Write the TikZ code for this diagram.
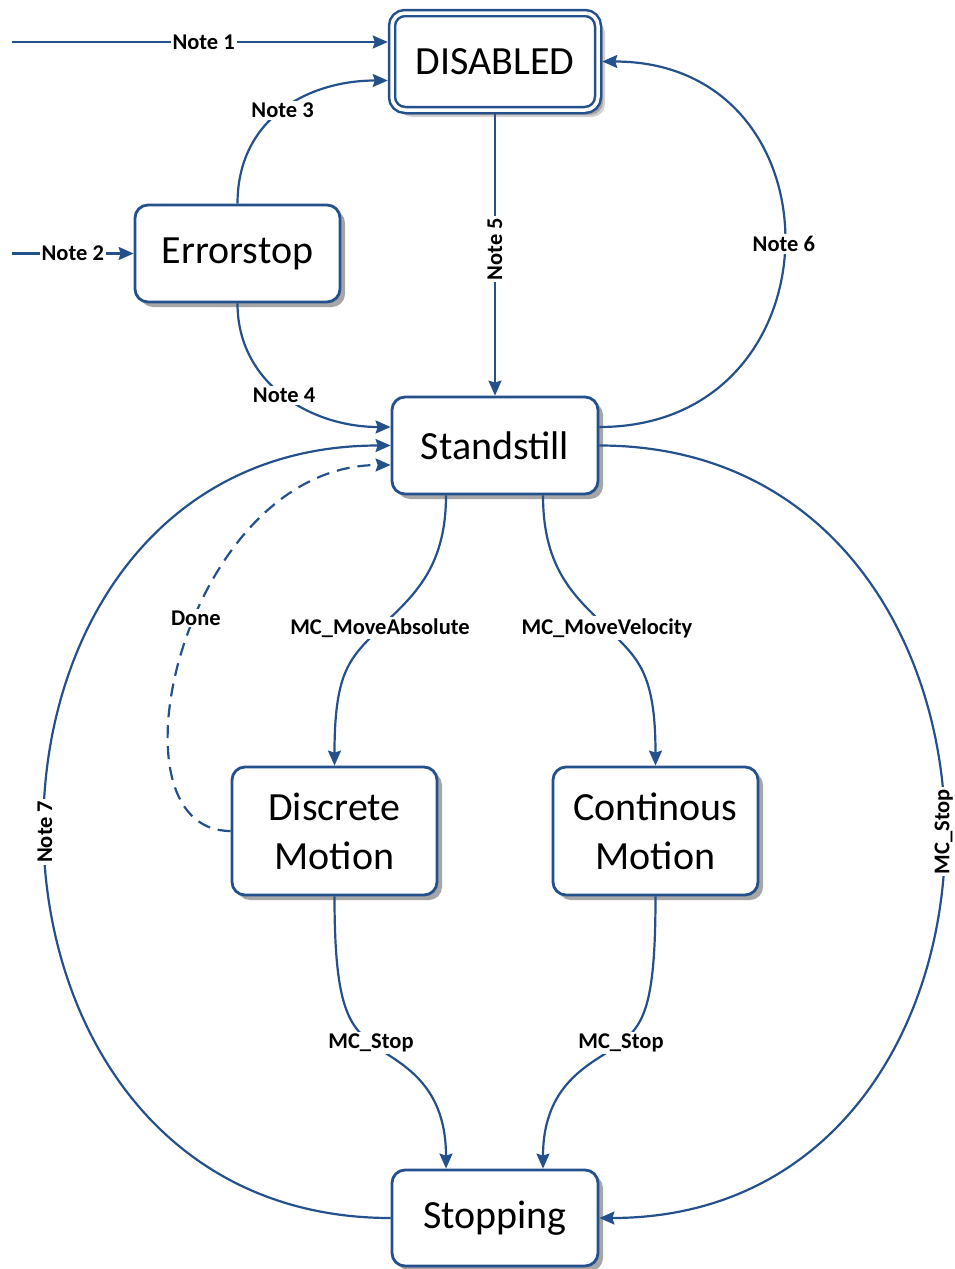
\documentclass[tikz,border=0pt]{standalone}
\usepackage{fontspec}
\setmainfont{Carlito}
\usetikzlibrary{arrows.meta,shadows,calc}
\definecolor{stateblue}{RGB}{36,80,140}
\begin{document}
\begin{tikzpicture}[x=1pt,y=-1pt,
  stbox/.style={draw=stateblue, line width=2.8pt, rounded corners=13pt, fill=white,
    minimum width=205pt, minimum height=97pt, inner sep=0pt, align=center,
    font=\fontsize{40}{49}\selectfont,
    drop shadow={shadow xshift=5pt, shadow yshift=-5pt, fill=gray!70, opacity=1}},
  conn/.style={draw=stateblue, line width=2.2pt,
    -{Stealth[length=15pt,width=13pt,inset=2pt]}},
  lbl/.style={fill=white, inner sep=2pt, text=black,
    font=\fontsize{22.5}{25}\selectfont\bfseries},
]
\useasboundingbox (0,0) rectangle (955,1269);

% states
\node[stbox, minimum width=206pt, double=white, double distance=3.5pt,
      line width=2.5pt, outer sep=4.25pt,
      drop shadow={shadow xshift=7pt, shadow yshift=-7pt, fill=gray!70}]
      (dis) at (495,61.5) {DISABLED};
\node[stbox] (err) at (237.5,253.5) {Errorstop};
\node[stbox, minimum width=206pt] (std) at (495,445.5) {Standstill};
\node[stbox, minimum height=128pt] (disc) at (334.5,831) {Discrete\\Motion};
\node[stbox, minimum height=128pt] (cont) at (655.5,831) {Continous\\Motion};
\node[stbox, minimum width=206pt, minimum height=96pt] (stop) at (495,1218) {Stopping};

% free entry points
\coordinate (in1) at (12,42);
\coordinate (in2) at (12,253.5);

% transitions
\draw[conn] (in1) -- node[lbl, pos=0.51] {Note 1} ($(dis.west)+(0,-19.5)$);
\draw[conn] (in2) -- node[lbl] {Note 2} (err.west);
\draw[conn] (err.north) .. controls +(0,-85) and +(-80,0) ..
  node[lbl] {Note 3} ($(dis.west)+(0,19)$);
\draw[conn] (err.south) .. controls +(0,80) and +(-80,0) ..
  node[lbl] {Note 4} ($(std.west)+(0,-18.5)$);
\draw[conn] (dis.south) -- node[lbl, rotate=90, pos=0.48] {Note 5} (std.north);
\draw[conn] ($(std.east)+(0,-18.5)$) .. controls +(244,0) and +(244,0) ..
  node[lbl] {Note 6} (dis.east);
\draw[conn] (stop.west) .. controls +(-461,0) and +(-461,0) ..
  node[lbl, rotate=90] {Note 7} (std.west);
\draw[conn] (std.east) .. controls +(459,0) and +(459,0) ..
  node[lbl, rotate=90] {MC\_Stop} (stop.east);
\draw[conn, dash pattern=on 13pt off 8pt] (disc.west) .. controls +(-131,0) and +(-206,0) ..
  node[lbl, pos=0.555] {Done} ($(std.west)+(0,19.5)$);

\draw[conn] ($(std.south)+(-49,0)$) .. controls +(0,76) and +(30,-30) ..
  (380,628) node[lbl] {MC\_MoveAbsolute}
  .. controls +(-30,30) and +(0,-95) .. (disc.north);
\draw[conn] ($(std.south)+(48,0)$) .. controls +(0,76) and +(-30,-30) ..
  (607,628) node[lbl] {MC\_MoveVelocity}
  .. controls +(30,30) and +(0,-95) .. (cont.north);

\draw[conn] (disc.south) .. controls +(0,105) and +(-24,-19) ..
  (371,1043) node[lbl] {MC\_Stop}
  .. controls +(24,19) and +(0,-90) .. ($(stop.north)+(-49,0)$);
\draw[conn] (cont.south) .. controls +(0,105) and +(24,-19) ..
  (621,1043) node[lbl] {MC\_Stop}
  .. controls +(-24,19) and +(0,-90) .. ($(stop.north)+(48,0)$);
\end{tikzpicture}
\end{document}
